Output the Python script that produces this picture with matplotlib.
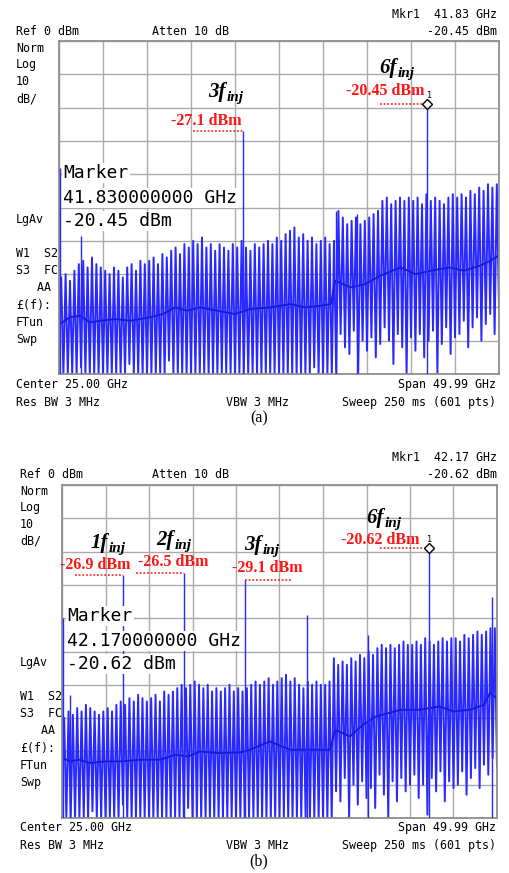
import numpy as np
import matplotlib.pyplot as plt

plt.rcParams['font.family'] = 'DejaVu Sans Mono'

# trace strokes every 0.5 GHz (dBm)
stroke_f = np.arange(100) * 0.5 + 0.25

a_top = [-71, -70, -72, -69, -67, -66, -68, -65, -67, -68,
         -69, -70, -68, -69, -71, -68, -67, -69, -66, -67,
         -66, -65, -67, -64, -65, -63, -62, -64, -61, -62,
         -60, -61, -59, -62, -61, -63, -61, -62, -63, -61,
         -62, -60, -62, -63, -61, -62, -61, -60, -61, -59,
         -60, -58, -57, -56, -59, -58, -60, -59, -61, -60,
         -59, -61, -60, -51, -53, -55, -54, -53, -55, -54,
         -53, -52, -51, -48, -47, -49, -48, -47, -48, -47,
         -48, -47, -49, -46, -48, -47, -48, -49, -47, -46,
         -47, -46, -47, -45, -46, -44, -45, -43, -44, -43]
a_bot = [-100, -100, -100, -100, -98, -100, -100, -100, -100, -100,
         -100, -100, -100, -100, -100, -97, -100, -100, -100, -100,
         -100, -100, -100, -100, -96, -100, -100, -100, -100, -100,
         -100, -100, -100, -100, -100, -100, -100, -100, -100, -100,
         -100, -100, -100, -100, -100, -100, -100, -100, -100, -100,
         -100, -100, -100, -100, -100, -100, -100, -98, -100, -100,
         -100, -100, -100, -88, -92, -94, -87, -100, -90, -93,
         -89, -95, -91, -86, -90, -97, -88, -92, -100, -89,
         -93, -88, -95, -90, -87, -100, -91, -86, -94, -89,
         -88, -84, -92, -86, -83, -90, -85, -82, -88, -80]
a_mid_f = [0.1, 1.2, 2.4, 3.5, 4.7, 6.4, 8.1, 10.3, 11.8, 13.2, 14.6, 16.0, 18.0,
           20.0, 21.7, 24.0, 26.3, 28.0, 29.7, 30.9, 31.4, 33.1, 34.8, 36.5,
           38.8, 40.5, 42.2, 44.4, 46.0, 47.8, 49.0, 49.9]
a_mid_db = [-85, -83, -82.5, -84.5, -84, -83.5, -84, -83, -82, -80, -81, -80, -81,
            -82, -80.5, -80, -79, -80, -79.5, -79, -72, -74, -73, -70.5,
            -68, -70, -69, -68, -69, -67.5, -66, -64.5]
a_spike_f = [0.15, 2.45, 20.915, 31.5, 33.9, 41.83]
a_spike_db = [-38, -58.5, -27.1, -51, -52, -19.0]

b_top = [-70, -68, -69, -67, -68, -66, -67, -68, -69, -68,
         -67, -68, -66, -65, -66, -64, -65, -63, -64, -65,
         -64, -63, -65, -62, -63, -62, -61, -60, -61, -60,
         -59, -60, -61, -60, -62, -61, -62, -61, -60, -62,
         -61, -62, -61, -60, -59, -60, -59, -58, -60, -59,
         -58, -57, -59, -58, -60, -61, -59, -60, -59, -60,
         -60, -59, -52, -54, -53, -54, -52, -53, -51, -52,
         -50, -51, -49, -48, -49, -48, -49, -48, -47, -48,
         -48, -47, -48, -46, -47, -48, -47, -46, -47, -46,
         -46, -47, -45, -46, -45, -44, -45, -44, -43, -43]
b_bot = [-100, -100, -100, -100, -100, -100, -98, -100, -100, -100,
         -100, -100, -100, -96, -100, -100, -100, -100, -100, -100,
         -100, -100, -100, -100, -100, -100, -100, -100, -97, -100,
         -100, -100, -100, -100, -100, -100, -100, -100, -100, -100,
         -100, -100, -100, -100, -100, -100, -100, -100, -100, -100,
         -100, -100, -100, -100, -100, -100, -100, -100, -100, -100,
         -100, -100, -92, -95, -88, -100, -90, -96, -89, -94,
         -91, -97, -87, -93, -100, -89, -95, -88, -92, -90,
         -87, -94, -90, -99, -88, -92, -86, -95, -89, -91,
         -90, -86, -93, -88, -85, -91, -84, -87, -82, -85]
b_mid_f = [0.1, 0.9, 2.0, 3.2, 5.0, 6.7, 9.0, 11.3, 13.0, 14.5, 15.9, 18.0, 20.5,
           21.6, 23.9, 26.2, 28.5, 30.8, 31.4, 33.1, 34.6, 36.0, 38.9, 41.1,
           43.4, 45.0, 46.9, 48.5, 49.2, 49.9]
b_mid_db = [-82, -83, -82.5, -83.5, -83, -83, -82.5, -82.5, -81, -81.5, -80, -80.5, -80.3,
            -79.5, -77, -79.5, -79.5, -79.5, -73.5, -75.5, -72, -69.6, -67.5, -67.5,
            -66.5, -68, -67.5, -66, -62.4, -64]
b_spike_f = [0.15, 0.92, 7.03, 14.06, 21.08, 28.2, 35.2, 42.17, 49.4]
b_spike_db = [-40, -63, -26.9, -26.5, -28.6, -39, -45, -19.0, -33.6]

blue = '#2828ff'
dark_blue = '#1818d0'
red = '#ff1414'

W, H = 510, 873
fig = plt.figure(figsize=(W / 100, H / 100), dpi=100)


def put(x, y, s, **kw):
    kw.setdefault('fontsize', 8.4)
    kw.setdefault('va', 'baseline')
    fig.text(x / W, 1 - y / H, s, **kw)


def spectrum(box, top, bot, mid_f, mid_db, spike_f, spike_db):
    x0, y0, x1, y1 = box
    ax = fig.add_axes([x0 / W, 1 - y1 / H, (x1 - x0) / W, (y1 - y0) / H])
    ax.set_xlim(0, 50)
    ax.set_ylim(-100, 0)
    ax.set_xticks(np.arange(0, 51, 5))
    ax.set_yticks(np.arange(-100, 1, 10))
    ax.grid(True, color='#ababab', lw=1.0)
    ax.tick_params(length=0, labelbottom=False, labelleft=False)
    for s in ax.spines.values():
        s.set_color('#8f8f8f')
        s.set_linewidth(1.3)
    xs = np.column_stack([stroke_f, stroke_f + 0.25]).ravel()
    ys = np.column_stack([top, bot]).ravel()
    ax.plot(xs, ys, color=blue, lw=1.4)
    ax.plot(mid_f, mid_db, color=dark_blue, lw=1.3)
    ax.vlines(spike_f, -100, spike_db, color=blue, lw=1.0, zorder=3)
    return ax


def header(dx, dy, mkr_f, mkr_db, label):
    put(16 + dx, 35 + dy, 'Ref 0 dBm')
    put(152, 35 + dy, 'Atten 10 dB')
    put(497, 18 + dy, 'Mkr1  %s GHz' % mkr_f, ha='right')
    put(497, 35 + dy, '%s dBm' % mkr_db, ha='right')
    for txt, yy in [('Norm', 52), ('Log', 68), ('10', 85), ('dB/', 102),
                    ('LgAv', 223), ('W1  S2', 257), ('S3  FC', 274), ('   AA', 291),
                    ('£(f):', 309), ('FTun', 326), ('Swp', 343)]:
        put(16 + dx, yy + dy, txt)
    put(16 + dx, 388 + dy, 'Center 25.00 GHz')
    put(16 + dx, 406 + dy, 'Res BW 3 MHz')
    put(226, 406 + dy, 'VBW 3 MHz')
    put(496, 388 + dy, 'Span 49.99 GHz', ha='right')
    put(496, 406 + dy, 'Sweep 250 ms (601 pts)', ha='right')
    box = dict(facecolor='white', edgecolor='none', pad=1.0)
    put(63 + dx, 178 + dy, 'Marker', fontsize=13, bbox=box)
    put(63 + dx, 203 + dy, '%s0000000 GHz' % mkr_f, fontsize=13, bbox=box)
    put(63 + dx, 226 + dy, '%s dBm' % mkr_db, fontsize=13, bbox=box)
    put(259, 422 + dy, label, family='Liberation Serif', fontsize=11.5, ha='center')


def harmonic(ax, x, y, n, level, lx, ly, f_from, f_to, peak_db):
    put(x, y, n + 'f', family='Liberation Serif', style='italic', weight='bold',
        fontsize=15, ha='right')
    put(x + 0.5, y + 4, 'inj', family='Liberation Serif', style='italic',
        weight='bold', fontsize=11, ha='left')
    put(lx, ly, level + ' dBm', family='Liberation Serif', weight='bold',
        fontsize=11.5, color=red, ha='center')
    ax.plot([f_from, f_to], [peak_db, peak_db], color=red, lw=1.1,
            ls=(0, (1.2, 1.2)), zorder=4)


# (a)
ax_a = spectrum((59, 41, 499, 374), a_top, a_bot, a_mid_f, a_mid_db, a_spike_f, a_spike_db)
header(0, 0, '41.83', '-20.45', '(a)')
harmonic(ax_a, 226, 97, '3', '-27.1', 206, 125, 15.2, 20.915, -27.1)
harmonic(ax_a, 397, 73, '6', '-20.45', 385, 95, 36.5, 41.83, -19.0)
ax_a.plot(41.83, -19.0, marker='D', ms=5, mfc='white', mec='black', mew=1.0, zorder=5)
put(430, 98, '1', fontsize=6, ha='center')

# (b)
ax_b = spectrum((62, 485, 497, 818), b_top, b_bot, b_mid_f, b_mid_db, b_spike_f, b_spike_db)
header(4, 443, '42.17', '-20.62', '(b)')
harmonic(ax_b, 108, 548, '1', '-26.9', 95, 569, 1.5, 7.03, -26.9)
harmonic(ax_b, 174, 545, '2', '-26.5', 173, 566, 8.5, 14.06, -26.5)
harmonic(ax_b, 262, 550, '3', '-29.1', 267, 572, 21.08, 26.4, -28.6)
harmonic(ax_b, 384, 523, '6', '-20.62', 380, 544, 36.55, 42.17, -19.0)
ax_b.plot(42.17, -19.0, marker='D', ms=5, mfc='white', mec='black', mew=1.0, zorder=5)
put(430, 542, '1', fontsize=6, ha='center')

fig.savefig('out.png', dpi=100)
